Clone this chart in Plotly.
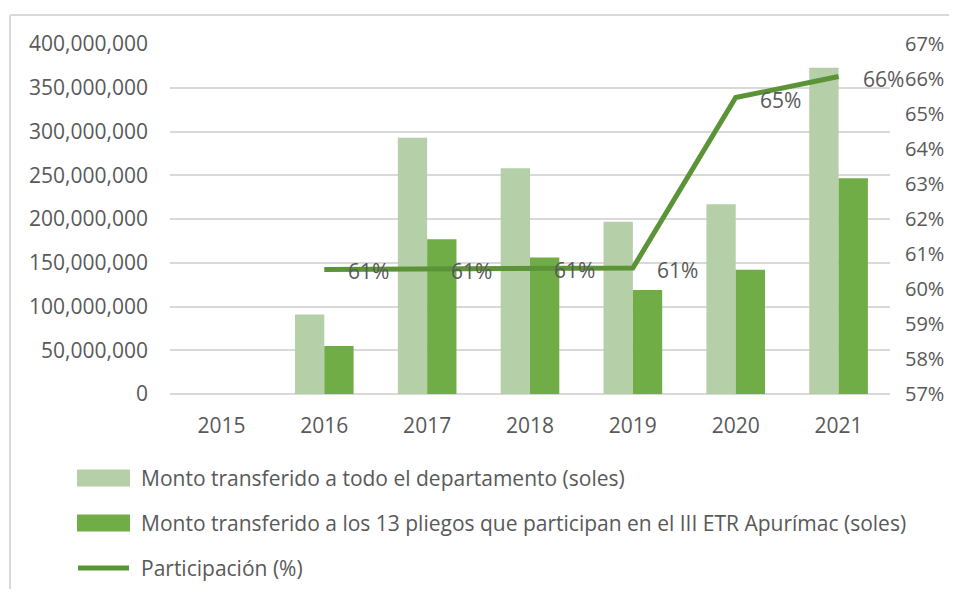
import plotly.graph_objects as go

years = ["2015", "2016", "2017", "2018", "2019", "2020", "2021"]
monto_departamento = [None, 91_000_000, 293_000_000, 258_000_000, 197_000_000, 217_000_000, 373_000_000]
monto_pliegos = [None, 55_000_000, 177_000_000, 156_000_000, 119_000_000, 142_000_000, 246_500_000]
participacion = [None, 0.6056, 0.6058, 0.6060, 0.6060, 0.6547, 0.6607]

series_names = [
    "Monto transferido a todo el departamento (soles)",
    "Monto transferido a los 13 pliegos que participan en el III ETR Apurímac (soles)",
    "Participación (%)",
]

C_LIGHT = "#B5CFA8"
C_DARK = "#70AD47"
C_LINE = "#5B9337"
TXT = "#595959"
GRID = "#D9D9D9"
FONT = "Open Sans"

OFF = 8  # page body margin
W, H = 957 - OFF, 597 - 2 * OFF
L, T = 170 - OFF, 44 - OFF
R = W - (890 - OFF)
B = H - (394 - OFF)
PW, PH = W - L - R, H - T - B


def px(x):
    return (x - OFF - L) / PW


def py(y):
    return (H - B - (y - OFF)) / PH


fig = go.Figure()
fig.add_trace(go.Bar(x=years, y=monto_departamento, name=series_names[0],
                     marker=dict(color=C_LIGHT, line=dict(width=0)), showlegend=False))
fig.add_trace(go.Bar(x=years, y=monto_pliegos, name=series_names[1],
                     marker=dict(color=C_DARK, line=dict(width=0)), showlegend=False))
fig.add_trace(go.Scatter(x=years, y=participacion, name=series_names[2], yaxis="y2",
                         mode="lines", line=dict(color=C_LINE, width=5),
                         connectgaps=False, showlegend=False))

annotations = []
for idx, v in enumerate(participacion):
    if v is None:
        continue
    annotations.append(dict(x=idx, y=v, xref="x", yref="y2", text=f"{round(v * 100)}%",
                            showarrow=False, xanchor="left", yanchor="middle",
                            xshift=22, yshift=-2, font=dict(family=FONT, size=21, color=TXT)))

shapes = [
    dict(type="line", xref="paper", yref="paper", x0=px(10), x1=px(10), y0=py(15), y1=py(600),
         line=dict(color=GRID, width=2)),
    dict(type="line", xref="paper", yref="paper", x0=px(10), x1=px(960), y0=py(15), y1=py(15),
         line=dict(color=GRID, width=2)),
]
legend_rows = [478, 523, 568]
for i, (name, yy) in enumerate(zip(series_names, legend_rows)):
    if i < 2:
        shapes.append(dict(type="rect", xref="paper", yref="paper", x0=px(77), x1=px(130),
                           y0=py(yy - 8.5), y1=py(yy + 8.5), line=dict(width=0),
                           fillcolor=[C_LIGHT, C_DARK][i]))
    else:
        shapes.append(dict(type="line", xref="paper", yref="paper", x0=px(78), x1=px(129),
                           y0=py(yy), y1=py(yy), line=dict(color=C_LINE, width=5)))
    annotations.append(dict(x=px(139), y=py(yy), xref="paper", yref="paper", text=name,
                            showarrow=False, xanchor="left", yanchor="middle",
                            font=dict(family=FONT, size=21, color=TXT)))

fig.update_layout(
    width=W, height=H,
    margin=dict(l=L, r=R, t=T, b=B, pad=0, autoexpand=False),
    paper_bgcolor="white", plot_bgcolor="white",
    barmode="group", bargap=0.43, bargroupgap=0,
    font=dict(family=FONT, size=21, color=TXT),
    showlegend=False,
    xaxis=dict(type="category", categoryorder="array", categoryarray=years,
               range=[-0.5, len(years) - 0.5], autorange=False, automargin=False,
               showgrid=False, showline=False, ticks="", ticklabelstandoff=17,
               tickfont=dict(family=FONT, size=21, color=TXT)),
    yaxis=dict(range=[0, 400_000_000], dtick=50_000_000, tick0=0, tickformat=",d",
               automargin=False,
               showgrid=True, gridcolor=GRID, gridwidth=1.5, zeroline=True,
               zerolinecolor=GRID, zerolinewidth=1.5, showline=False, ticks="",
               ticklabelstandoff=21, tickfont=dict(family=FONT, size=21, color=TXT)),
    yaxis2=dict(range=[0.57, 0.67], dtick=0.01, tick0=0.57, tickformat=".0%",
                overlaying="y", side="right", showgrid=False, zeroline=False,
                automargin=False,
                showline=False, ticks="", ticklabelstandoff=14,
                tickfont=dict(family=FONT, size=20, color=TXT)),
    annotations=annotations,
    shapes=shapes,
)

fig.write_html("out.html")
